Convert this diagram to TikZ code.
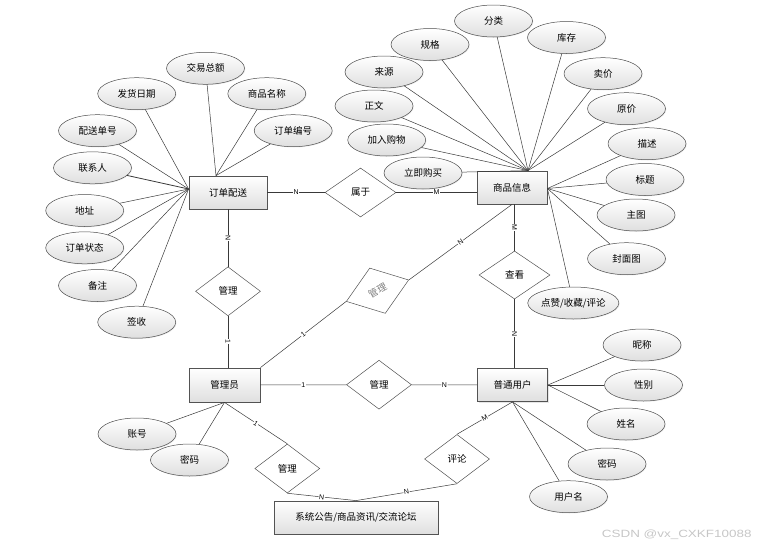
\documentclass[tikz,border=0pt]{standalone}
\usepackage{fontspec}
\setmainfont{Liberation Sans}
\newfontfamily\cjk{Noto Sans CJK SC}
\usetikzlibrary{shapes.geometric,shadows,calc}
\begin{document}
\begin{tikzpicture}[x=1pt,y=-1pt,
  every node/.style={font=\cjk\fontsize{9.5}{11}\selectfont, inner sep=0pt},
  ent/.style={rectangle, draw=gray!65!black, line width=0.8pt, top color=white, bottom color=gray!25,
    minimum height=33pt, drop shadow={shadow xshift=1pt, shadow yshift=-1pt, opacity=0.2}},
  attr/.style={ellipse, draw=gray!60!black, line width=0.5pt, top color=white, bottom color=gray!25,
    minimum width=78pt, minimum height=32pt, drop shadow={shadow xshift=0.8pt, shadow yshift=-0.8pt, opacity=0.15}},
  rel/.style={diamond, draw=gray!65!black, line width=0.5pt, fill=white, minimum width=65pt, minimum height=49pt},
  ln/.style={draw=gray!45!black, line width=0.5pt},
  card/.style={font=\fontsize{7}{8}\selectfont, fill=white, inner sep=0.6pt, sloped}
]
\useasboundingbox (0,0) rectangle (759,549);

% entities
\node[ent, minimum width=78pt] (od) at (228,192.5) {订单配送};
\node[ent, minimum width=70pt] (sp) at (512,187.5) {商品信息};
\node[ent, minimum width=71pt, minimum height=34pt] (gl) at (224.5,385) {管理员};
\node[ent, minimum width=70pt] (pt) at (512.5,385) {普通用户};
\node[ent, minimum width=164pt] (sys) at (356,517.5) {系统公告/商品资讯/交流论坛};

% relationships
\node[rel, minimum width=71pt] (sy) at (360.5,192.5) {属于};
\node[rel] (m2) at (228,291.3) {管理};
\node[rel, rotate=19, minimum width=66pt, minimum height=48pt, text=gray] (dg) at (377.5,290.7) {\rotatebox{10}{管理}};
\node[rel] (m3) at (379,384.7) {管理};
\node[rel, minimum width=71pt, minimum height=48pt] (ck) at (514.5,275) {查看};
\node[rel] (m4) at (287.3,468.5) {管理};
\node[rel] (pl) at (457,459) {评论};

% convergence points
\coordinate (odT) at ($(od.north)+(-12,0)$);
\coordinate (odL) at ($(od.west)+(0,-3.5)$);
\coordinate (spT) at ($(sp.north)+(16,0)$);
\coordinate (spR) at ($(sp.east)+(0,1)$);

% attributes of 订单配送
\node[attr] (a1) at (205.5,68.3) {交易总额};
\node[attr] (a2) at (136.7,93.7) {发货日期};
\node[attr] (a3) at (266.8,93.7) {商品名称};
\node[attr] (a4) at (97.5,130.7) {配送单号};
\node[attr] (a5) at (293.2,130.7) {订单编号};
\node[attr] (a6) at (92.5,167.8) {联系人};
\node[attr] (a7) at (84.7,210.5) {地址};
\node[attr] (a8) at (84.7,247.8) {订单状态};
\node[attr] (a9) at (97.5,285.5) {备注};
\node[attr] (a10) at (136.7,322.2) {签收};
\draw[ln] (a1) -- (odT);
\draw[ln] (a3) -- (odT);
\draw[ln] (a5) -- (odT);
\draw[ln] (a2) -- (odL);
\draw[ln] (a4) -- (odL);
\draw[ln, line width=0.8pt] (a6) -- (odL);
\draw[ln] (a7) -- (odL);
\draw[ln] (a8) -- (odL);
\draw[ln] (a9) -- (odL);
\draw[ln] (a10) -- (odL);

% attributes of 商品信息
\node[attr] (b1) at (493.5,21) {分类};
\node[attr] (b2) at (430,44.5) {规格};
\node[attr] (b3) at (566.5,37.5) {库存};
\node[attr] (b4) at (384,72) {来源};
\node[attr] (b5) at (603,73.7) {卖价};
\node[attr] (b6) at (374,106) {正文};
\node[attr] (b7) at (626.5,108.7) {原价};
\node[attr] (b8) at (386.7,140) {加入购物};
\node[attr] (b9) at (647,143.7) {描述};
\node[attr] (b10) at (423,173) {立即购买};
\node[attr] (b11) at (645,179.5) {标题};
\node[attr] (b12) at (636,215) {主图};
\node[attr] (b13) at (626.5,258.7) {封面图};
\node[attr] (b14) at (573.3,303) {点赞/收藏/评论};
\foreach \b in {b1,b2,b3,b4,b5,b6,b7,b8,b10} \draw[ln] (\b) -- (spT);
\foreach \b in {b9,b11,b12,b13,b14} \draw[ln] (\b) -- (spR);

% attributes of 普通用户
\node[attr] (c1) at (642,345) {昵称};
\node[attr] (c2) at (643.5,385) {性别};
\node[attr] (c3) at (626,424) {姓名};
\node[attr] (c4) at (607,464) {密码};
\node[attr] (c5) at (568.5,496.7) {用户名};
\foreach \c in {c1,c2,c3} \draw[ln] (\c) -- (pt.east);
\foreach \c in {c4,c5} \draw[ln] (\c) -- (pt.south);

% attributes of 管理员
\node[attr] (d1) at (137,434) {账号};
\node[attr] (d2) at (189.5,460) {密码};
\foreach \d in {d1,d2} \draw[ln] (\d) -- (gl.south);

% relationship connectors
\draw[ln] (od) -- node[card]{N} (sy);
\draw[ln] (sy.east) -- node[card]{M} (sy.east -| sp.west);
\draw[ln] (od) -- node[card]{N} (m2);
\draw[ln] (m2.south) -- node[card]{1} (m2.south |- gl.north);
\draw[ln] (gl.north east) -- node[card]{1} (dg.west);
\draw[ln] (dg.east) -- node[card]{N} (sp.south);
\draw[ln] (gl) -- node[card]{1} (m3);
\draw[ln] (m3) -- node[card]{N} (pt);
\draw[ln] (ck.north |- sp.south) -- node[card]{M} (ck.north);
\draw[ln] (ck.south) -- node[card]{N} (ck.south |- pt.north);
\draw[ln] (gl.south) -- node[card]{1} (m4.north);
\draw[ln] (m4.south) -- node[card]{N} (sys.north);
\draw[ln] (pt.south) -- node[card]{M} (pl.north);
\draw[ln] (pl.south) -- node[card]{N} (sys.north);

% watermark
\node[font=\fontsize{10.5}{12}\selectfont, text=gray!45] (wm) at (676.7,535) {\scalebox{1.28}[1]{CSDN @vx\_CXKF10088}};
\end{tikzpicture}
\end{document}
